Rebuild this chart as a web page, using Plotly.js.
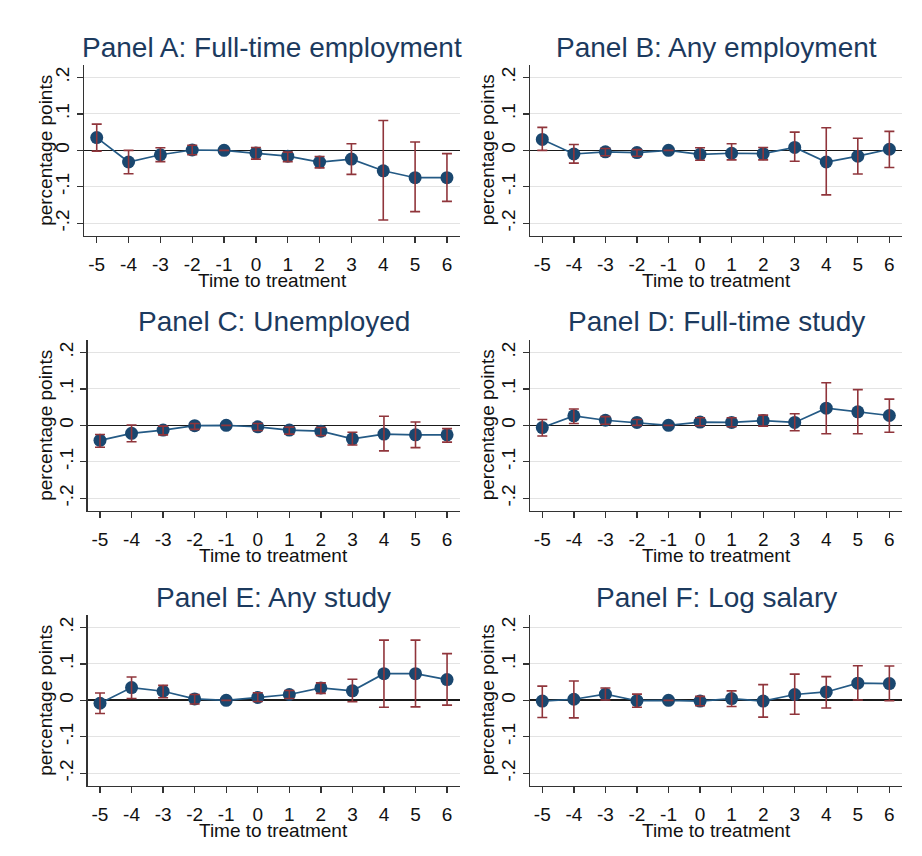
<!DOCTYPE html>
<html>
<head>
<meta charset="utf-8">
<script src="https://cdn.plot.ly/plotly-3.0.1.min.js"></script>
<style>
html,body{margin:0;padding:0;background:#fff;}
#chart{width:922px;height:856px;}
</style>
</head>
<body>
<div id="chart"></div>
<script>
// ---- data ----
const periods = [-5, -4, -3, -2, -1, 0, 1, 2, 3, 4, 5, 6];
const xTickLabels = ['-5','-4','-3','-2','-1','0','1','2','3','4','5','6'];
const yTickVals = [-0.2, -0.1, 0, 0.1, 0.2];
const yTickLabels = ['-.2', '-.1', '0', '.1', '.2'];

const panelTitles = [
  'Panel A: Full-time employment',
  'Panel B: Any employment',
  'Panel C: Unemployed',
  'Panel D: Full-time study',
  'Panel E: Any study',
  'Panel F: Log salary'
];

const panelA_coef = [0.035, -0.032, -0.012, 0.001, 0, -0.007, -0.016, -0.032, -0.024, -0.056, -0.075, -0.075];
const panelA_lo   = [-0.002, -0.064, -0.031, -0.012, 0, -0.024, -0.031, -0.048, -0.066, -0.191, -0.168, -0.140];
const panelA_hi   = [0.072, 0.000, 0.007, 0.014, 0, 0.008, -0.005, -0.017, 0.018, 0.082, 0.023, -0.009];

const panelB_coef = [0.030, -0.010, -0.004, -0.006, 0, -0.011, -0.008, -0.009, 0.008, -0.032, -0.016, 0.003];
const panelB_lo   = [0.000, -0.035, -0.015, -0.016, 0, -0.027, -0.026, -0.026, -0.030, -0.122, -0.065, -0.047];
const panelB_hi   = [0.063, 0.016, 0.005, 0.002, 0, 0.007, 0.018, 0.008, 0.050, 0.062, 0.033, 0.052];

const panelC_coef = [-0.041, -0.022, -0.013, -0.001, 0, -0.004, -0.013, -0.016, -0.037, -0.024, -0.026, -0.026];
const panelC_lo   = [-0.060, -0.045, -0.026, -0.011, 0, -0.014, -0.024, -0.028, -0.054, -0.070, -0.061, -0.046];
const panelC_hi   = [-0.025, 0.001, -0.002, 0.005, 0, 0.005, -0.005, -0.006, -0.019, 0.025, 0.009, -0.009];

const panelD_coef = [-0.006, 0.026, 0.014, 0.008, 0, 0.009, 0.008, 0.013, 0.008, 0.047, 0.037, 0.027];
const panelD_lo   = [-0.029, 0.005, 0.003, 0.000, 0, -0.001, -0.004, -0.002, -0.015, -0.023, -0.023, -0.019];
const panelD_hi   = [0.016, 0.045, 0.024, 0.016, 0, 0.021, 0.021, 0.028, 0.032, 0.117, 0.098, 0.072];

const panelE_coef = [-0.008, 0.035, 0.025, 0.004, 0, 0.008, 0.016, 0.034, 0.026, 0.073, 0.073, 0.057];
const panelE_lo   = [-0.036, 0.005, 0.007, -0.010, 0, -0.003, 0.005, 0.019, -0.004, -0.019, -0.018, -0.013];
const panelE_hi   = [0.020, 0.064, 0.041, 0.016, 0, 0.021, 0.027, 0.048, 0.058, 0.165, 0.165, 0.128];

const panelF_coef = [-0.002, 0.003, 0.017, -0.001, 0, -0.002, 0.005, -0.002, 0.016, 0.023, 0.047, 0.046];
const panelF_lo   = [-0.047, -0.048, 0.001, -0.019, 0, -0.015, -0.017, -0.046, -0.038, -0.021, 0.001, -0.001];
const panelF_hi   = [0.039, 0.053, 0.034, 0.017, 0, 0.011, 0.026, 0.043, 0.072, 0.065, 0.095, 0.094];

const panelData = [
  [panelA_coef, panelA_lo, panelA_hi],
  [panelB_coef, panelB_lo, panelB_hi],
  [panelC_coef, panelC_lo, panelC_hi],
  [panelD_coef, panelD_lo, panelD_hi],
  [panelE_coef, panelE_lo, panelE_hi],
  [panelF_coef, panelF_lo, panelF_hi]
];

// ---- layout geometry (pixels) ----
const W = 922, H = 856;
const boxes = [
  {l: 84.3, r: 460, t: 65, b: 235.7},
  {l: 530, r: 902.3, t: 65, b: 235.7},
  {l: 87.7, r: 460, t: 340, b: 510.7},
  {l: 530, r: 902.3, t: 340, b: 510.7},
  {l: 87.7, r: 460, t: 615, b: 785.7},
  {l: 530, r: 902.3, t: 615, b: 785.7}
];
const yTitleX = [45.5, 487, 45.5, 487, 45.5, 487];

const NAVY = '#1a476f';
const MAROON = '#90353b';
const FONT = 'Liberation Sans, Arial, sans-serif';

const traces = [];
const annotations = [];
const layout = {
  width: W, height: H,
  margin: {l: 0, r: 0, t: 0, b: 0},
  paper_bgcolor: '#ffffff',
  plot_bgcolor: '#ffffff',
  showlegend: false,
  font: {family: FONT, color: '#111111', size: 19}
};

panelData.forEach((d, i) => {
  const n = i + 1;
  const xa = n === 1 ? 'x' : 'x' + n;
  const ya = n === 1 ? 'y' : 'y' + n;
  const bx = boxes[i];
  const [coef, lo, hi] = d;

  // connected line + markers
  traces.push({
    type: 'scatter', mode: 'lines+markers',
    x: periods, y: coef, xaxis: xa, yaxis: ya,
    line: {color: '#245a85', width: 1.7},
    marker: {color: NAVY, size: 13, line: {width: 0}},
    hoverinfo: 'skip'
  });
  // error bars on top
  traces.push({
    type: 'scatter', mode: 'markers',
    x: periods, y: coef, xaxis: xa, yaxis: ya,
    marker: {color: 'rgba(0,0,0,0)', size: 1},
    error_y: {
      type: 'data', symmetric: false,
      array: hi.map((h, k) => h - coef[k]),
      arrayminus: lo.map((l, k) => coef[k] - l),
      color: MAROON, thickness: 1.6, width: 5
    },
    hoverinfo: 'skip'
  });

  const xkey = n === 1 ? 'xaxis' : 'xaxis' + n;
  const ykey = n === 1 ? 'yaxis' : 'yaxis' + n;
  layout[xkey] = {
    domain: [bx.l / W, bx.r / W],
    anchor: ya,
    range: [-5.39, 6.41],
    tickmode: 'array', tickvals: periods, ticktext: xTickLabels,
    ticks: 'outside', ticklen: 6, tickwidth: 1.3, tickcolor: '#333',
    ticklabelstandoff: 5,
    showline: true, linecolor: '#333', linewidth: 1.5,
    showgrid: false, zeroline: false,
    tickfont: {family: FONT, size: 19, color: '#111'},
    fixedrange: true
  };
  layout[ykey] = {
    domain: [(H - bx.b) / H, (H - bx.t) / H],
    anchor: xa,
    range: [-0.234, 0.234],
    tickmode: 'array', tickvals: yTickVals, ticktext: yTickLabels,
    tickangle: -90,
    ticks: 'outside', ticklen: 6, tickwidth: 1.3, tickcolor: '#333',
    showline: true, linecolor: '#333', linewidth: 1.5,
    showgrid: true, gridcolor: '#e3e3e3', gridwidth: 1,
    zeroline: true, zerolinecolor: '#1a1a1a', zerolinewidth: 1.7,
    tickfont: {family: FONT, size: 19, color: '#111'},
    fixedrange: true
  };

  // panel title
  annotations.push({
    xref: 'paper', yref: 'paper',
    x: ((bx.l + bx.r) / 2) / W, y: (H - (bx.t - 18)) / H,
    xanchor: 'center', yanchor: 'middle',
    text: panelTitles[i], showarrow: false,
    font: {family: FONT, size: 28, color: '#1c3a5e'}
  });
  // x axis title
  annotations.push({
    xref: 'paper', yref: 'paper',
    x: ((bx.l + bx.r) / 2) / W, y: (H - (bx.b + 45)) / H,
    xanchor: 'center', yanchor: 'middle',
    text: 'Time to treatment', showarrow: false,
    font: {family: FONT, size: 19, color: '#111'}
  });
  // y axis title
  annotations.push({
    xref: 'paper', yref: 'paper',
    x: yTitleX[i] / W, y: (H - (bx.t + bx.b) / 2) / H,
    xanchor: 'center', yanchor: 'middle',
    text: 'percentage points', textangle: -90, showarrow: false,
    font: {family: FONT, size: 19, color: '#111'}
  });
});

layout.annotations = annotations;

Plotly.newPlot('chart', traces, layout, {staticPlot: true, displayModeBar: false});
</script>
</body>
</html>
